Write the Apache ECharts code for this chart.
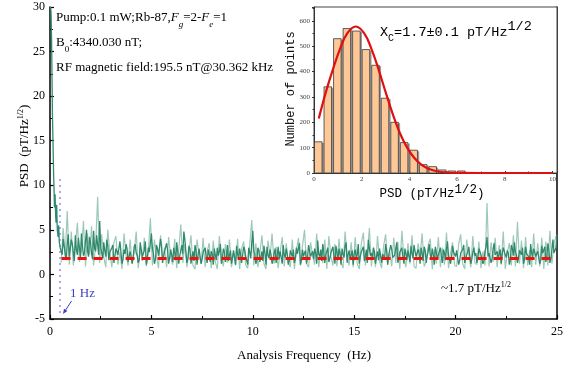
<!DOCTYPE html>
<html>
<head>
<meta charset="utf-8">
<script src="https://cdn.jsdelivr.net/npm/echarts@6/dist/echarts.min.js"></script>
<style>
html,body{margin:0;padding:0;background:#fff;}
#chart{width:574px;height:369px;}
</style>
</head>
<body>
<div id="chart"></div>
<script>
// ---------- Main PSD spectrum ----------
const xTicks = [0, 5, 10, 15, 20, 25];
const yTicks = [-5, 0, 5, 10, 15, 20, 25, 30];
// low-frequency 1/f rise
const lowFreqHz = [0.03, 0.05, 0.08, 0.1, 0.12, 0.15, 0.18, 0.2, 0.22, 0.25, 0.28, 0.3, 0.33, 0.36, 0.4, 0.43, 0.46];
const lowPsd = [30, 29.5, 26, 22, 18, 14.5, 11, 9.5, 7.5, 9, 6.5, 5.8, 7.8, 5, 4.2, 5.5, 3.6];
// dense noise floor, dark trace A: 0.5 Hz .. 25.0 Hz, step 0.1 Hz
const darkStartHz = 0.5, darkStepHz = 0.1;
const darkPsd = [
 3.0, 2.2, 3.8, 1.6, 4.5,
 2.1, 3.4, 1.5, 2.8, 4.1, 1.9, 3.2, 2.4, 5.0, 2.0,
 3.6, 1.7, 2.9, 4.4, 2.2, 3.1, 1.8, 2.7, 3.9, 1.6,
 2.5, 3.3, 1.4, 2.6, 2.0, 3.5, 1.7, 2.3, 2.9, 1.5,
 2.4, 1.9, 3.4, 2.1, 1.6, 2.8, 2.2, 3.7, 1.8, 2.5,
 4.6, 2.3, 1.7, 2.9, 2.0, 3.2, 1.5, 2.4, 2.7, 1.9,
 2.2, 3.0, 1.6, 2.5, 2.1, 3.3, 4.8, 2.6, 1.8, 2.9,
 2.0, 1.5, 2.7, 2.2, 3.1, 1.7, 2.4, 1.9, 2.8, 1.4,
 2.3, 2.9, 1.6, 2.1, 3.4, 1.8, 2.5, 2.0, 1.5, 2.7,
 1.9, 2.6, 3.2, 1.7, 2.2, 1.4, 2.8, 2.1, 3.0, 1.8,
 4.9, 2.3, 1.6, 2.7, 2.0, 1.5, 2.4, 3.1, 1.8, 2.2,
 1.6, 2.9, 2.1, 1.7, 2.5, 3.3, 1.9, 2.2, 1.5, 2.6,
 2.8, 1.8, 2.3, 3.5, 1.6, 2.0, 2.7, 1.9, 3.1, 2.2,
 1.7, 2.4, 3.8, 2.0, 1.5, 2.6, 2.2, 3.0, 1.8, 2.5,
 2.1, 3.2, 1.6, 2.4, 2.9, 1.9, 3.6, 2.2, 1.7, 2.7,
 2.3, 1.8, 3.4, 2.0, 2.6, 1.5, 2.8, 3.9, 2.1, 1.7,
 2.5, 2.0, 1.6, 3.1, 2.3, 1.8, 2.7, 2.1, 3.3, 1.9,
 2.2, 3.6, 1.7, 2.4, 2.0, 2.9, 1.6, 2.5, 3.2, 1.8,
 2.6, 1.9, 2.3, 3.0, 1.5, 2.7, 2.1, 3.4, 1.8, 2.2,
 3.1, 1.7, 2.4, 2.0, 2.8, 1.6, 3.7, 2.2, 1.9, 2.5,
 2.0, 2.9, 1.5, 2.3, 3.3, 1.8, 2.6, 2.1, 1.7, 3.0,
 2.4, 1.9, 2.7, 2.2, 1.6, 3.1, 2.0, 2.5, 1.8, 3.5,
 2.1, 1.7, 2.8, 2.3, 3.2, 1.9, 2.4, 1.6, 2.9, 3.6,
 2.2, 1.8, 2.6, 3.0, 1.7, 2.3, 2.0, 3.4, 1.9, 2.5,
 2.1, 2.8, 1.6, 2.4, 3.1, 2.0, 2.7, 1.8, 3.9, 2.3,
 4.5
];
// dark trace B (interleaved): 0.55 Hz .. 24.95 Hz, step 0.1 Hz
const darkBStartHz = 0.55, darkBStepHz = 0.1;
const darkPsdB = [
 2.6, 4.0, 2.3, 3.4, 2.0,
 3.9, 2.5, 4.4, 2.2, 3.0, 4.6, 2.1, 3.7, 2.6, 4.2,
 2.3, 4.9, 2.6, 3.3, 6.0, 2.4, 3.6, 2.0, 3.2, 2.5,
 3.0, 1.3, 2.9, 2.2, 3.7, 1.2, 2.8, 3.4, 1.4, 2.6,
 1.2, 3.1, 2.4, 1.3, 3.6, 2.0, 2.7, 1.1, 3.0, 2.3,
 2.9, 1.2, 3.3, 2.1, 4.0, 1.3, 2.6, 3.5, 1.2, 2.8,
 1.4, 2.4, 3.6, 1.2, 2.7, 2.3, 3.9, 1.3, 3.2, 1.2,
 2.6, 3.3, 1.1, 2.9, 1.2, 2.5, 3.0, 1.3, 2.3, 2.6,
 1.1, 2.2, 3.0, 2.6, 1.2, 2.9, 1.4, 3.3, 2.2, 1.2,
 2.7, 1.1, 2.3, 2.9, 1.3, 3.1, 2.0, 1.1, 2.5, 3.6,
 2.6, 1.2, 3.0, 1.4, 2.6, 3.2, 1.1, 2.2, 2.8, 1.2,
 2.4, 1.3, 3.1, 2.6, 1.2, 2.2, 2.9, 1.1, 2.7, 2.0,
 1.3, 3.0, 2.2, 1.1, 2.8, 2.4, 1.2, 3.3, 2.0, 2.6,
 2.9, 1.2, 2.3, 2.8, 3.4, 1.3, 2.6, 1.4, 2.4, 3.1,
 1.2, 2.5, 2.9, 1.1, 2.3, 3.2, 1.3, 2.7, 2.2, 1.1,
 2.8, 2.2, 1.2, 2.5, 3.1, 2.0, 1.3, 2.9, 2.4, 3.0,
 1.2, 2.6, 2.9, 1.3, 2.2, 3.4, 1.1, 2.3, 2.8, 2.1,
 2.9, 1.3, 2.5, 3.0, 1.2, 2.3, 2.7, 1.4, 2.4, 3.3,
 2.0, 2.8, 1.2, 2.4, 3.1, 1.3, 2.6, 2.2, 2.9, 1.1,
 2.5, 2.2, 3.0, 1.3, 2.4, 2.9, 2.1, 1.2, 3.2, 2.3,
 2.7, 1.1, 2.4, 2.8, 1.3, 2.2, 3.1, 1.2, 2.5, 2.1,
 1.3, 2.9, 2.2, 1.2, 2.6, 4.2, 2.4, 1.3, 2.8, 2.2,
 2.6, 2.3, 1.2, 3.0, 2.2, 2.7, 1.1, 3.3, 2.1, 2.5,
 1.3, 2.7, 2.2, 1.2, 3.1, 2.5, 1.1, 2.4, 2.9, 2.0,
 2.6, 1.2, 3.2, 2.2, 1.4, 3.5, 1.3, 2.8, 2.4, 3.0
];
// light trace (wider excursions): 0.55 Hz .. 24.95 Hz, step 0.1 Hz
const lightStartHz = 0.55, lightStepHz = 0.1;
const lightPsd = [
 1.3, 5.2, 2.0, 7.1, 1.1,
 4.8, 1.0, 3.1, 5.8, 1.4, 2.6, 6.0, 0.9, 4.6, 2.2,
 5.4, 1.0, 3.2, 8.7, 1.3, 4.5, 2.0, 0.8, 5.0, 2.4,
 0.8, 3.6, 4.3, 1.1, 2.5, 0.6, 4.6, 2.2, 1.0, 3.9,
 1.2, 2.4, 4.8, 0.7, 3.0, 1.5, 4.1, 0.9, 2.7, 6.3,
 1.0, 3.9, 2.1, 0.7, 4.4, 1.6, 3.0, 0.8, 4.2, 1.9,
 1.1, 4.0, 0.7, 2.8, 5.6, 1.3, 3.4, 0.8, 2.5, 4.4,
 1.0, 0.6, 3.9, 2.2, 1.2, 4.1, 0.8, 2.6, 3.5, 0.7,
 3.8, 1.4, 0.6, 4.3, 2.0, 0.9, 3.4, 1.3, 3.9, 0.8,
 2.6, 1.0, 4.0, 0.6, 2.9, 3.7, 1.1, 0.7, 3.4, 6.1,
 1.0, 3.5, 0.8, 2.4, 4.4, 1.2, 0.6, 3.8, 2.0, 4.6,
 1.2, 3.1, 0.7, 2.5, 4.2, 0.9, 3.5, 1.3, 0.8, 3.9,
 0.6, 2.7, 4.1, 1.0, 3.2, 5.0, 1.2, 0.8, 3.6, 2.1,
 1.1, 4.6, 0.8, 2.6, 1.3, 3.9, 0.6, 4.3, 2.0, 1.0,
 3.4, 0.9, 4.0, 1.4, 0.7, 4.8, 2.2, 1.0, 3.6, 0.8,
 4.2, 1.2, 0.6, 3.5, 4.7, 1.0, 2.4, 5.2, 0.9, 3.0,
 0.8, 4.3, 1.5, 0.7, 3.2, 4.5, 1.1, 2.6, 0.9, 4.1,
 1.3, 3.7, 0.6, 4.9, 2.0, 0.8, 3.5, 1.2, 4.4, 0.9,
 0.7, 3.5, 2.1, 4.6, 0.9, 1.4, 3.3, 4.0, 0.6, 2.8,
 1.2, 4.2, 0.8, 3.0, 1.1, 4.7, 0.7, 2.4, 3.6, 1.0,
 0.9, 3.4, 4.5, 1.2, 0.6, 3.9, 2.2, 0.8, 4.3, 1.3,
 1.1, 3.7, 0.7, 2.6, 1.0, 8.0, 0.9, 3.6, 1.4, 4.1,
 0.8, 3.3, 1.1, 4.8, 0.6, 2.5, 3.5, 1.0, 4.4, 0.9,
 5.9, 1.2, 3.8, 0.7, 4.2, 1.0, 2.7, 0.8, 4.6, 1.1,
 3.5, 0.9, 4.1, 0.6, 3.7, 1.0, 4.9, 1.2, 3.4, 4.3
];
const noiseLevel = 1.8;          // red dashed line level
const noiseLineFromHz = 0.57;
const oneHzMarker = 0.46;
const oneHzMarkerRange = [-4.3, 10.9];

// ---------- Inset histogram ----------
const histBinWidth = 0.4;
const histBinLeft = [0, 0.4, 0.8, 1.2, 1.6, 2.0, 2.4, 2.8, 3.2, 3.6, 4.0, 4.4, 4.8, 5.2, 5.6, 6.0];
const histCounts = [123, 340, 530, 570, 560, 487, 425, 295, 200, 120, 90, 33, 25, 12, 8, 8];
const fitX = [0.2, 0.5, 0.8, 1.1, 1.4, 1.75, 2.1, 2.4, 2.7, 3.0, 3.3, 3.6, 3.9, 4.2, 4.5, 4.8, 5.2, 5.6, 6.0, 7.0, 8.0, 9.0, 10.0];
const fitY = [215, 320, 411, 492, 552, 578, 552, 492, 411, 320, 233, 158, 101, 60, 33, 17, 6, 2, 0.5, 0, 0, 0, 0];
const insetXTicks = [0, 2, 4, 6, 8, 10];
const insetYTicks = [0, 100, 200, 300, 400, 500, 600];

// ---------- build data ----------
const darkNoise = darkPsd.map((v, i) => [+(darkStartHz + i * darkStepHz).toFixed(3), v])
  .concat(darkPsdB.map((v, i) => [+(darkBStartHz + i * darkBStepHz).toFixed(3), v]))
  .sort((a, b) => a[0] - b[0]);
const darkData = lowFreqHz.map((f, i) => [f, lowPsd[i]]).concat(darkNoise);
const lightData = lightPsd.map((v, i) => [+(lightStartHz + i * lightStepHz).toFixed(3), v]);
const histData = histBinLeft.map((x, i) => [x, histCounts[i]]);
const fitData = fitX.map((x, i) => [x, fitY[i]]);

const SERIF = 'Liberation Serif';
const MONO = 'Liberation Mono';

const chart = echarts.init(document.getElementById('chart'), null, {renderer: 'canvas'});
const option = {
  animation: false,
  backgroundColor: '#fff',
  grid: [
    {left: 50, right: 17, top: 7, bottom: 50},
    {left: 314, width: 243, top: 7, height: 166, show: true, backgroundColor: '#fff', borderColor: '#444', borderWidth: 1, z: 5}
  ],
  xAxis: [
    {
      type: 'value', gridIndex: 0, min: 0, max: 25, interval: 5,
      axisLine: {show: true, onZero: false, lineStyle: {color: '#000', width: 1.5}},
      axisTick: {show: true, inside: true, length: 4, lineStyle: {color: '#000', width: 1.2}},
      minorTick: {show: true, splitNumber: 2, length: 3, lineStyle: {color: '#000', width: 1}},
      axisLabel: {color: '#000', fontFamily: SERIF, fontSize: 12, margin: 7,
        formatter: v => xTicks.includes(v) ? String(v) : ''},
      splitLine: {show: false}
    },
    {
      type: 'value', gridIndex: 1, min: 0, max: 10.19, interval: 2,
      axisLine: {show: true, onZero: false, lineStyle: {color: '#333', width: 1}},
      axisTick: {show: true, inside: true, length: 2, lineStyle: {color: '#333'}},
      minorTick: {show: true, splitNumber: 2, length: 1.5, lineStyle: {color: '#333'}},
      axisLabel: {color: '#444', fontFamily: SERIF, fontSize: 7, margin: 3,
        formatter: v => insetXTicks.includes(v) ? String(v) : ''},
      splitLine: {show: false}, z: 6
    }
  ],
  yAxis: [
    {
      type: 'value', gridIndex: 0, min: -5, max: 30, interval: 5,
      axisLine: {show: true, onZero: false, lineStyle: {color: '#000', width: 1.5}},
      axisTick: {show: true, inside: true, length: 4, lineStyle: {color: '#000', width: 1.2}},
      minorTick: {show: true, splitNumber: 2, length: 3, lineStyle: {color: '#000', width: 1}},
      axisLabel: {color: '#000', fontFamily: SERIF, fontSize: 12, margin: 5,
        formatter: v => yTicks.includes(v) ? String(v) : ''},
      splitLine: {show: false}
    },
    {
      type: 'value', gridIndex: 0, position: 'right', min: -5, max: 30, interval: 5,
      axisLine: {show: true, onZero: false, lineStyle: {color: '#000', width: 1.5}},
      axisTick: {show: false}, axisLabel: {show: false}, splitLine: {show: false}
    },
    {
      type: 'value', gridIndex: 1, min: 0, max: 655, interval: 100,
      axisLine: {show: true, onZero: false, lineStyle: {color: '#333', width: 1}},
      axisTick: {show: true, inside: false, length: 2, lineStyle: {color: '#333'}},
      minorTick: {show: true, splitNumber: 2, length: 1.5, lineStyle: {color: '#333'}},
      axisLabel: {color: '#444', fontFamily: SERIF, fontSize: 7, margin: 4,
        formatter: v => insetYTicks.includes(v) ? String(v) : ''},
      splitLine: {show: false}, z: 6
    }
  ],
  series: [
    {
      type: 'line', xAxisIndex: 0, yAxisIndex: 0, data: lightData,
      symbol: 'none', lineStyle: {color: '#9dc9b8', width: 1.2}, z: 2, silent: true
    },
    {
      type: 'line', xAxisIndex: 0, yAxisIndex: 0, data: darkData,
      symbol: 'none', lineStyle: {color: '#2f8a6b', width: 1.3}, z: 3, silent: true,
      markLine: {
        silent: true, symbol: 'none', animation: false, label: {show: false},
        data: [
          [{coord: [noiseLineFromHz, noiseLevel], lineStyle: {color: '#ee1111', width: 3, type: [9, 7]}},
           {coord: [25, noiseLevel]}],
          [{coord: [oneHzMarker, oneHzMarkerRange[0]], lineStyle: {color: '#6a6ae6', width: 1.5, type: [1.5, 4.5]}},
           {coord: [oneHzMarker, oneHzMarkerRange[1]]}]
        ]
      }
    },
    {
      type: 'custom', xAxisIndex: 1, yAxisIndex: 2, data: histData, z: 7,
      encode: {x: 0, y: 1},
      renderItem: function (params, api) {
        const x0 = api.value(0), c = api.value(1);
        const pTop = api.coord([x0, c]);
        const pBot = api.coord([x0 + histBinWidth, 0]);
        const left = pTop[0] + 0.5, right = pBot[0] - 1.5;
        return {
          type: 'group',
          children: [
            {type: 'rect', shape: {x: left + 1.8, y: pTop[1] + 1, width: right - left, height: pBot[1] - pTop[1] - 1},
             style: {fill: '#9a9a9a'}},
            {type: 'rect', shape: {x: left, y: pTop[1], width: right - left, height: pBot[1] - pTop[1]},
             style: {fill: '#fdc896', stroke: '#3a3a3a', lineWidth: 0.8}}
          ]
        };
      }
    },
    {
      type: 'line', xAxisIndex: 1, yAxisIndex: 2, data: fitData, smooth: 0.4,
      symbol: 'none', lineStyle: {color: '#e01010', width: 2.2}, z: 8, silent: true
    }
  ],
  graphic: [
    {type: 'text', x: 56, y: 18, z: 20, style: {
      text: '{t|Pump:0.1 mW;Rb-87,}{i|F}{b|g}{t|=2-}{i|F}{b|e}{t|=1}',
      align: 'left', verticalAlign: 'middle',
      rich: {
        t: {fontFamily: SERIF, fontSize: 13, color: '#000', lineHeight: 16},
        i: {fontFamily: SERIF, fontSize: 13, fontStyle: 'italic', color: '#000', lineHeight: 16},
        b: {fontFamily: SERIF, fontSize: 9, fontStyle: 'italic', color: '#000', lineHeight: 9, verticalAlign: 'bottom', padding: [0, 0, -3, 0]}
      }}},
    {type: 'text', x: 56, y: 43, z: 20, style: {
      text: '{t|B}{b|0}{t|:4340.030 nT;}',
      align: 'left', verticalAlign: 'middle',
      rich: {
        t: {fontFamily: SERIF, fontSize: 13, color: '#000', lineHeight: 16},
        b: {fontFamily: SERIF, fontSize: 9, color: '#000', lineHeight: 9, verticalAlign: 'bottom', padding: [0, 0, -3, 0]}
      }}},
    {type: 'text', x: 56, y: 68, z: 20, style: {
      text: 'RF magnetic field:195.5 nT@30.362 kHz',
      fontFamily: SERIF, fontSize: 13, fill: '#000', align: 'left', verticalAlign: 'middle'}},
    {type: 'text', x: 25, y: 146, rotation: Math.PI / 2, z: 20, style: {
      text: '{t|PSD  (pT/Hz}{s|1/2}{t|)}',
      align: 'center', verticalAlign: 'middle',
      rich: {
        t: {fontFamily: SERIF, fontSize: 13, color: '#000', lineHeight: 16},
        s: {fontFamily: SERIF, fontSize: 8, color: '#000', lineHeight: 8, verticalAlign: 'top'}
      }}},
    {type: 'text', x: 304, y: 356, z: 20, style: {
      text: 'Analysis Frequency  (Hz)',
      fontFamily: SERIF, fontSize: 13, fill: '#000', align: 'center', verticalAlign: 'middle'}},
    {type: 'text', x: 441, y: 289, z: 20, style: {
      text: '{t|~1.7 pT/Hz}{s|1/2}',
      align: 'left', verticalAlign: 'middle',
      rich: {
        t: {fontFamily: SERIF, fontSize: 13, color: '#000', lineHeight: 16},
        s: {fontFamily: SERIF, fontSize: 8, color: '#000', lineHeight: 8, verticalAlign: 'top'}
      }}},
    {type: 'text', x: 70, y: 294, z: 20, style: {
      text: '1 Hz', fontFamily: SERIF, fontSize: 13, fill: '#3d3dc8', align: 'left', verticalAlign: 'middle'}},
    {type: 'line', z: 20, shape: {x1: 71.5, y1: 301, x2: 65, y2: 311}, style: {stroke: '#3d3dc8', lineWidth: 1}},
    {type: 'polygon', z: 20, shape: {points: [[63, 314], [67.4, 310.9], [64, 308.7]]}, style: {fill: '#3d3dc8'}},
    {type: 'text', x: 380, y: 32, z: 20, style: {
      text: '{x|X}{c|C}{t|=1.7±0.1 pT/Hz}{s|1/2}',
      align: 'left', verticalAlign: 'middle',
      rich: {
        x: {fontFamily: MONO, fontSize: 13.5, color: '#111', lineHeight: 18},
        c: {fontFamily: MONO, fontSize: 10, color: '#111', lineHeight: 10, verticalAlign: 'bottom', padding: [0, 0, -2, 0]},
        t: {fontFamily: MONO, fontSize: 13.5, color: '#111', lineHeight: 18},
        s: {fontFamily: MONO, fontSize: 13.5, color: '#111', lineHeight: 12, verticalAlign: 'top', padding: [-4, 0, 0, 0]}
      }}},
    {type: 'text', x: 291, y: 89, rotation: Math.PI / 2, z: 20, style: {
      text: 'Number of points', fontFamily: MONO, fontSize: 12, fill: '#111', align: 'center', verticalAlign: 'middle'}},
    {type: 'text', x: 432, y: 194, z: 20, style: {
      text: '{t|PSD (pT/Hz}{s|1/2}{t|)}',
      align: 'center', verticalAlign: 'middle',
      rich: {
        t: {fontFamily: MONO, fontSize: 12.5, color: '#111', lineHeight: 16},
        s: {fontFamily: MONO, fontSize: 12.5, color: '#111', lineHeight: 12, verticalAlign: 'top', padding: [-3, 0, 0, 0]}
      }}}
  ]
};
chart.setOption(option);
</script>
</body>
</html>
